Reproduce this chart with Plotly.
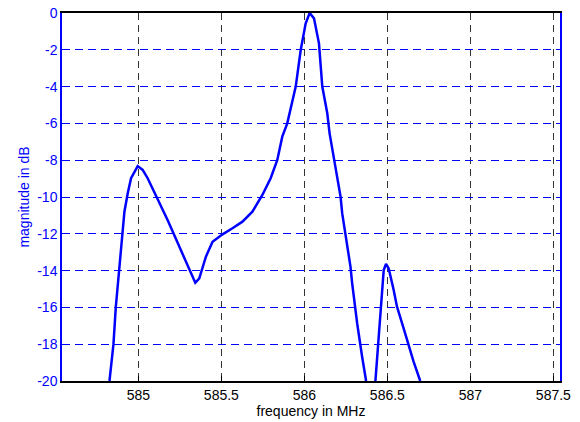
import plotly.graph_objects as go

freq_mhz = [584.826, 584.850, 584.864, 584.878, 584.906, 584.916, 584.936, 584.956,
            584.996, 585.026, 585.056, 585.106, 585.136, 585.176, 585.216, 585.246,
            585.306, 585.343, 585.367, 585.407, 585.447, 585.507, 585.567, 585.627,
            585.687, 585.747, 585.797, 585.837, 585.867, 585.897, 585.948, 585.978,
            586.008, 586.032, 586.058, 586.088, 586.108, 586.138, 586.152, 586.178,
            586.218, 586.228, 586.248, 586.278, 586.288, 586.318, 586.348, 586.372,
            None,
            586.428, 586.448, 586.464, 586.478, 586.492, 586.508, 586.538, 586.558,
            586.598, 586.618, 586.658, 586.698]
magnitude_db = [-20.0, -18.0, -16.0, -14.5, -11.97, -10.8, -9.8, -8.98,
                -8.32, -8.53, -8.98, -9.89, -10.52, -11.25, -12.07, -12.7,
                -13.97, -14.66, -14.42, -13.24, -12.43, -12.03, -11.70, -11.34,
                -10.8, -9.89, -8.98, -7.99, -6.72, -6.0, -4.0, -2.01,
                -0.56, 0.0, -0.29, -1.65, -4.0, -5.45, -6.54, -7.99,
                -9.98, -10.89, -12.07, -13.8, -14.69, -16.86, -18.68, -20.0,
                None,
                -20.0, -17.77, -15.96, -13.97, -13.64, -13.88, -15.05, -15.96,
                -17.14, -17.77, -18.95, -20.0]

x_ticks = [585, 585.5, 586, 586.5, 587, 587.5]
x_tick_labels = ["585", "585.5", "586", "586.5", "587", "587.5"]
y_ticks = [0, -2, -4, -6, -8, -10, -12, -14, -16, -18, -20]
y_tick_labels = [str(v) for v in y_ticks]

fig = go.Figure()
fig.add_trace(go.Scatter(
    x=freq_mhz, y=magnitude_db, mode="lines",
    line=dict(color="#0000ff", width=2.5),
    connectgaps=False, showlegend=False, hoverinfo="skip",
))

font_family = "Liberation Sans, Arial, sans-serif"
fig.update_layout(
    width=580, height=422,
    margin=dict(l=62, r=20, t=13, b=41, autoexpand=False),
    paper_bgcolor="white", plot_bgcolor="white",
    font=dict(family=font_family, size=14, color="black"),
    xaxis=dict(
        range=[584.54, 587.54],
        tickvals=x_ticks, ticktext=x_tick_labels,
        showgrid=True, gridcolor="#333333", gridwidth=1, griddash="7px,5px",
        showline=True, linecolor="black", linewidth=1.5, mirror=True,
        ticks="inside", ticklen=5, tickcolor="black",
        tickfont=dict(size=14, color="black"),
        title=dict(text="frequency in MHz", font=dict(size=14, color="black"), standoff=2),
        zeroline=False,
    ),
    yaxis=dict(
        range=[-20, 0],
        tickvals=y_ticks, ticktext=y_tick_labels,
        showgrid=True, gridcolor="#0000ff", gridwidth=1, griddash="8px,5px",
        showline=True, linecolor="#0000ff", linewidth=1.5, mirror=True,
        ticks="inside", ticklen=5, tickcolor="#0000ff",
        tickfont=dict(size=14, color="#0000ff"),
        title=dict(text="magnitude in dB", font=dict(size=14, color="#0000ff"), standoff=4),
        zeroline=False,
    ),
)

fig.write_html(
    "out.html",
    config={"displayModeBar": False},
    post_script="document.body.style.margin='0';document.body.style.overflow='hidden';",
)
